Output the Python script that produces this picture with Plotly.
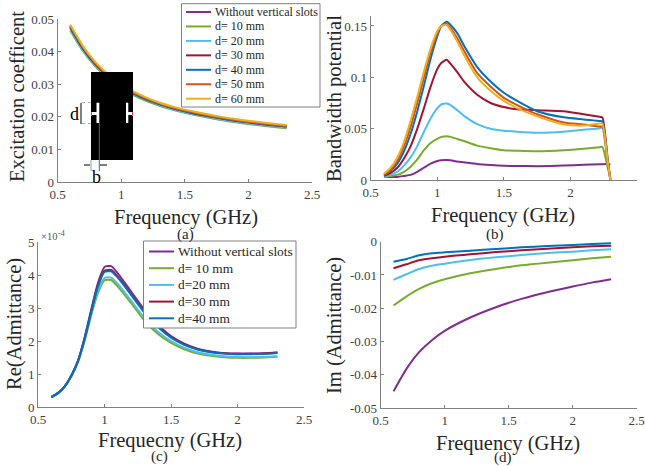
import plotly.graph_objects as go

W, H = 645, 466
FONT = "Liberation Serif"
C = {"purple": "#7E2F8E", "green": "#77AC30", "cyan": "#4DBEEE", "red": "#A2142F",
     "blue": "#0072BD", "orange": "#D95319", "yellow": "#EDB120"}

# (a) excitation coefficient
fa = [0.6, 0.7, 0.8, 0.9, 1.0, 1.1, 1.2, 1.3, 1.4, 1.5, 1.6, 1.7, 1.8, 1.9, 2.0, 2.1, 2.2, 2.3]
a_none = [.0478, .0413, .0363, .0326, .0296, .0273, .0255, .0240, .0228, .0218, .0210, .0202, .0195, .0189, .0184, .0179, .0175, .0171]
a_10 = [.0465, .0402, .0353, .0317, .0288, .0266, .0248, .0234, .0222, .0212, .0204, .0196, .0189, .0183, .0178, .0173, .0169, .0165]
a_20 = [.0468, .0405, .0356, .0320, .0291, .0269, .0251, .0236, .0224, .0214, .0206, .0198, .0191, .0185, .0180, .0175, .0171, .0167]
a_30 = [.0474, .0409, .0360, .0323, .0294, .0271, .0253, .0239, .0227, .0217, .0208, .0201, .0194, .0188, .0183, .0178, .0174, .0170]
a_40 = [.0476, .0411, .0362, .0325, .0295, .0272, .0254, .0240, .0228, .0218, .0209, .0202, .0195, .0189, .0184, .0179, .0175, .0171]
a_50 = [.0479, .0414, .0364, .0327, .0297, .0274, .0256, .0241, .0229, .0219, .0211, .0203, .0196, .0190, .0185, .0180, .0176, .0172]
a_60 = [.0482, .0417, .0367, .0330, .0300, .0277, .0259, .0244, .0232, .0222, .0214, .0206, .0199, .0193, .0188, .0183, .0179, .0175]

# (b) bandwidth potential
fb = [.6, .65, .7, .75, .8, .85, .9, .95, 1.0, 1.03, 1.07, 1.1, 1.15, 1.2, 1.3, 1.4, 1.5, 1.6, 1.75, 1.95, 2.1, 2.22, 2.24, 2.28, 2.3]
b_none = [.003, .003, .003, .004, .005, .008, .012, .016, .0185, .0193, .0195, .0193, .018, .0172, .0155, .0145, .0138, .0136, .0135, .014, .0148, .0153, .0154, .0155, .015]
b_10 = [.003, .004, .005, .008, .013, .020, .029, .036, .040, .0418, .0425, .042, .040, .038, .0335, .031, .029, .0285, .028, .029, .0305, .032, .0322, .012, .002]
b_20 = [.003, .005, .008, .014, .022, .033, .047, .060, .070, .0735, .0745, .073, .068, .0625, .0545, .050, .048, .047, .046, .047, .049, .0505, .051, .017, .002]
b_30 = [.004, .007, .012, .021, .033, .050, .070, .091, .108, .114, .117, .113, .105, .096, .083, .075, .071, .069, .068, .067, .064, .0615, .061, .02, 0]
b_40 = [.005, .009, .016, .028, .045, .067, .092, .118, .140, .150, .154, .151, .143, .131, .110, .096, .085, .077, .067, .061, .059, .0575, .057, .019, 0]
b_50 = [.005, .010, .019, .033, .052, .075, .100, .124, .143, .150, .152, .148, .138, .126, .104, .091, .080, .073, .064, .056, .054, .052, .052, .017, 0]
b_60 = [.006, .012, .022, .037, .058, .081, .106, .128, .145, .150, .151, .146, .135, .122, .100, .087, .077, .070, .062, .054, .053, .055, .055, .018, 0]

# (c) real part of admittance, in units of 1e-4
fc = [0.6, 0.65, 0.7, 0.75, 0.8, 0.85, 0.9, 0.95, 1.0, 1.05, 1.1, 1.2, 1.3, 1.4, 1.5, 1.6, 1.7, 1.8, 1.9, 2.0, 2.1, 2.2, 2.3]
c_none = [.30, .42, .62, .95, 1.40, 2.10, 2.95, 3.75, 4.24, 4.27, 4.05, 3.50, 2.95, 2.50, 2.15, 1.92, 1.77, 1.68, 1.63, 1.62, 1.62, 1.63, 1.65]
c_10 = [.30, .42, .62, .93, 1.36, 2.00, 2.78, 3.45, 3.84, 3.85, 3.65, 3.15, 2.62, 2.22, 1.94, 1.75, 1.62, 1.55, 1.51, 1.49, 1.49, 1.50, 1.52]
c_20 = [.30, .42, .62, .93, 1.37, 2.02, 2.82, 3.52, 3.91, 3.92, 3.73, 3.22, 2.70, 2.29, 2.00, 1.80, 1.66, 1.58, 1.54, 1.52, 1.51, 1.52, 1.54]
c_30 = [.30, .42, .62, .94, 1.39, 2.07, 2.90, 3.68, 4.13, 4.15, 3.95, 3.42, 2.88, 2.45, 2.12, 1.90, 1.75, 1.67, 1.63, 1.61, 1.61, 1.62, 1.65]
c_40 = [.30, .42, .62, .94, 1.38, 2.05, 2.88, 3.64, 4.09, 4.11, 3.92, 3.40, 2.86, 2.43, 2.10, 1.88, 1.74, 1.66, 1.62, 1.60, 1.60, 1.61, 1.64]

# (d) imaginary part of admittance
fd = [0.6, 0.7, 0.8, 0.9, 1.0, 1.2, 1.4, 1.6, 1.8, 2.0, 2.15, 2.3]
d_none = [-.0450, -.0383, -.0332, -.0296, -.0268, -.0228, -.0197, -.0172, -.0152, -.0135, -.0123, -.0113]
d_10 = [-.0192, -.0165, -.0142, -.0125, -.0113, -.0095, -.0082, -.0071, -.0063, -.0056, -.0050, -.0045]
d_20 = [-.0115, -.0098, -.0082, -.0072, -.0066, -.0055, -.0047, -.0040, -.0034, -.0030, -.0026, -.0023]
d_30 = [-.0080, -.0068, -.0056, -.0050, -.0045, -.0038, -.0031, -.0026, -.0021, -.0017, -.0014, -.0012]
d_40 = [-.0060, -.0052, -.0041, -.0035, -.0032, -.0027, -.0022, -.0017, -.0013, -.0010, -.0007, -.0005]

names_top = ["Without vertical slots", "d= 10 mm", "d= 20 mm", "d= 30 mm", "d= 40 mm", "d= 50 mm", "d= 60 mm"]
names_c = ["Without vertical slots", "d= 10 mm", "d=20 mm", "d=30 mm", "d=40 mm"]
order = ["purple", "green", "cyan", "red", "blue", "orange", "yellow"]


def px(v):
    return v / W


def py(v):
    return 1 - v / H


fig = go.Figure()
panels = {
    "": (57.5, 312, 19, 182, [0, 0.05], [0, .01, .02, .03, .04, .05], ["0", "0.01", "0.02", "0.03", "0.04", "0.05"]),
    "2": (370.7, 637, 15.7, 180, [0, 0.16], [0, .05, .1, .15], ["0", "0.05", "0.1", "0.15"]),
    "3": (38, 304, 242, 407, [0, 5], [0, 1, 2, 3, 4, 5], ["0", "1", "2", "3", "4", "5"]),
    "4": (380.7, 636.7, 241.7, 408, [-0.05, 0], [-.05, -.04, -.03, -.02, -.01, 0], ["-0.05", "-0.04", "-0.03", "-0.02", "-0.01", "0"]),
}
series = {
    "": (fa, [a_none, a_10, a_20, a_30, a_40, a_50, a_60], names_top),
    "2": (fb, [b_none, b_10, b_20, b_30, b_40, b_50, b_60], names_top),
    "3": (fc, [c_none, c_10, c_20, c_30, c_40], names_c),
    "4": (fd, [d_none, d_10, d_20, d_30, d_40], names_c),
}
layout = {}
for k, (l, r, t, b, yr, tv, tt) in panels.items():
    xs, ys_list, nms = series[k]
    for vals, nm, col in zip(ys_list, nms, order):
        fig.add_trace(go.Scatter(x=xs, y=vals, name=nm, mode="lines", xaxis="x" + k, yaxis="y" + k,
                                 showlegend=False, line=dict(color=C[col], width=2, shape="spline", smoothing=0.6)))
    common = dict(showgrid=False, zeroline=False, showline=True, linecolor="#808080", linewidth=1,
                  ticks="inside", ticklen=3, tickcolor="#808080", automargin=False,
                  tickfont=dict(family=FONT, size=13, color="#404040"))
    layout["xaxis" + k] = dict(domain=[px(l), px(r)], range=[0.5, 2.5], anchor="y" + k,
                               tickvals=[.5, 1, 1.5, 2, 2.5], ticktext=["0.5", "1", "1.5", "2", "2.5"], **common)
    layout["yaxis" + k] = dict(domain=[py(b), py(t)], range=yr, anchor="x" + k, tickvals=tv, ticktext=tt, **common)

shapes, ann = [], []


def text(x, y, s, size=12, color="#262626", anchor="center", angle=0):
    ann.append(dict(text=s, x=px(x), y=py(y), xref="paper", yref="paper", showarrow=False, xanchor=anchor,
                    yanchor="middle", textangle=angle, font=dict(family=FONT, size=size, color=color)))


def rect(x0, y0, x1, y1, fill, line=None):
    shapes.append(dict(type="rect", xref="paper", yref="paper", x0=px(x0), x1=px(x1), y0=py(y0), y1=py(y1),
                       fillcolor=fill, line=dict(color=line or fill, width=1 if line else 0), layer="above"))


def seg(x0, y0, x1, y1, color, width=1, dash="solid"):
    shapes.append(dict(type="line", xref="paper", yref="paper", x0=px(x0), x1=px(x1), y0=py(y0), y1=py(y1),
                       line=dict(color=color, width=width, dash=dash), layer="above"))


# axis titles
text(185.5, 217, "Frequency (GHz)", 20.5)
text(17, 97, "Excitation coefficent", 20.5, angle=-90)
text(503, 215, "Frequency (GHz)", 20.5)
text(335, 99, "Bandwidth potential", 20.5, angle=-90)
text(170, 440, "Frequecny (GHz)", 20.5)
text(14, 324, "Re(Admittance)", 20.5, angle=-90)
text(508, 443, "Frequency (GHz)", 20.5)
text(334, 326, "Im (Admittance)", 20.5, angle=-90)

# inset drawing in panel (a)
rect(91, 72, 133, 160, "black")
rect(96.5, 102.7, 99.3, 123, "white")
rect(126, 102.7, 128.3, 123, "white")
rect(92, 112, 97, 115, "white")
rect(128, 112, 132.5, 115, "white")
seg(99.3, 123, 99.3, 171, "#666666", 1)
seg(91, 160, 91, 171, "#999999", 1)
seg(82, 102.5, 91, 102.5, "#aaaaaa", 1, "dot")
seg(82, 123.5, 91, 123.5, "#aaaaaa", 1, "dot")
seg(81, 103, 81, 124, "black", 1)
seg(84, 165, 90, 165, "black", 1)
seg(100, 165, 107, 165, "black", 1)
seg(91.5, 112, 91.5, 116, "#e04050", 1)
seg(132.5, 112, 132.5, 116, "#e04050", 1)
text(74, 114, "d", 18, "black")
text(96, 177, "b", 18, "black")


def legend(x0, y0, x1, y1, first, step, names, size, lx0, lx1, tx):
    rect(x0, y0, x1, y1, "white", "#808080")
    for i, (nm, col) in enumerate(zip(names, order)):
        yy = first + i * step
        seg(lx0, yy, lx1, yy, C[col], 2)
        text(tx, yy, nm, size, "#262626", "left")


legend(181.5, 3.7, 320, 107, 12, 14.45, names_top, 12, 186, 211, 213)
legend(143.5, 241, 296, 328, 251.5, 16.7, names_c, 13.4, 149, 174, 176)

text(39, 236.5, "×10", 10.5, "#555555", "left")
text(56, 233, "-4", 8, "#555555", "left")
text(185, 234, "(a)", 15)
text(495, 234, "(b)", 15)
text(159, 456, "(c)", 15)
text(503, 457, "(d)", 15)

fig.update_layout(width=W, height=H, margin=dict(l=0, r=0, t=0, b=0), paper_bgcolor="white", plot_bgcolor="white",
                  showlegend=False, shapes=shapes, annotations=ann, font=dict(family=FONT), **layout)
fig.write_html("out.html", post_script="document.body.style.margin='0';", config={"displayModeBar": False})
